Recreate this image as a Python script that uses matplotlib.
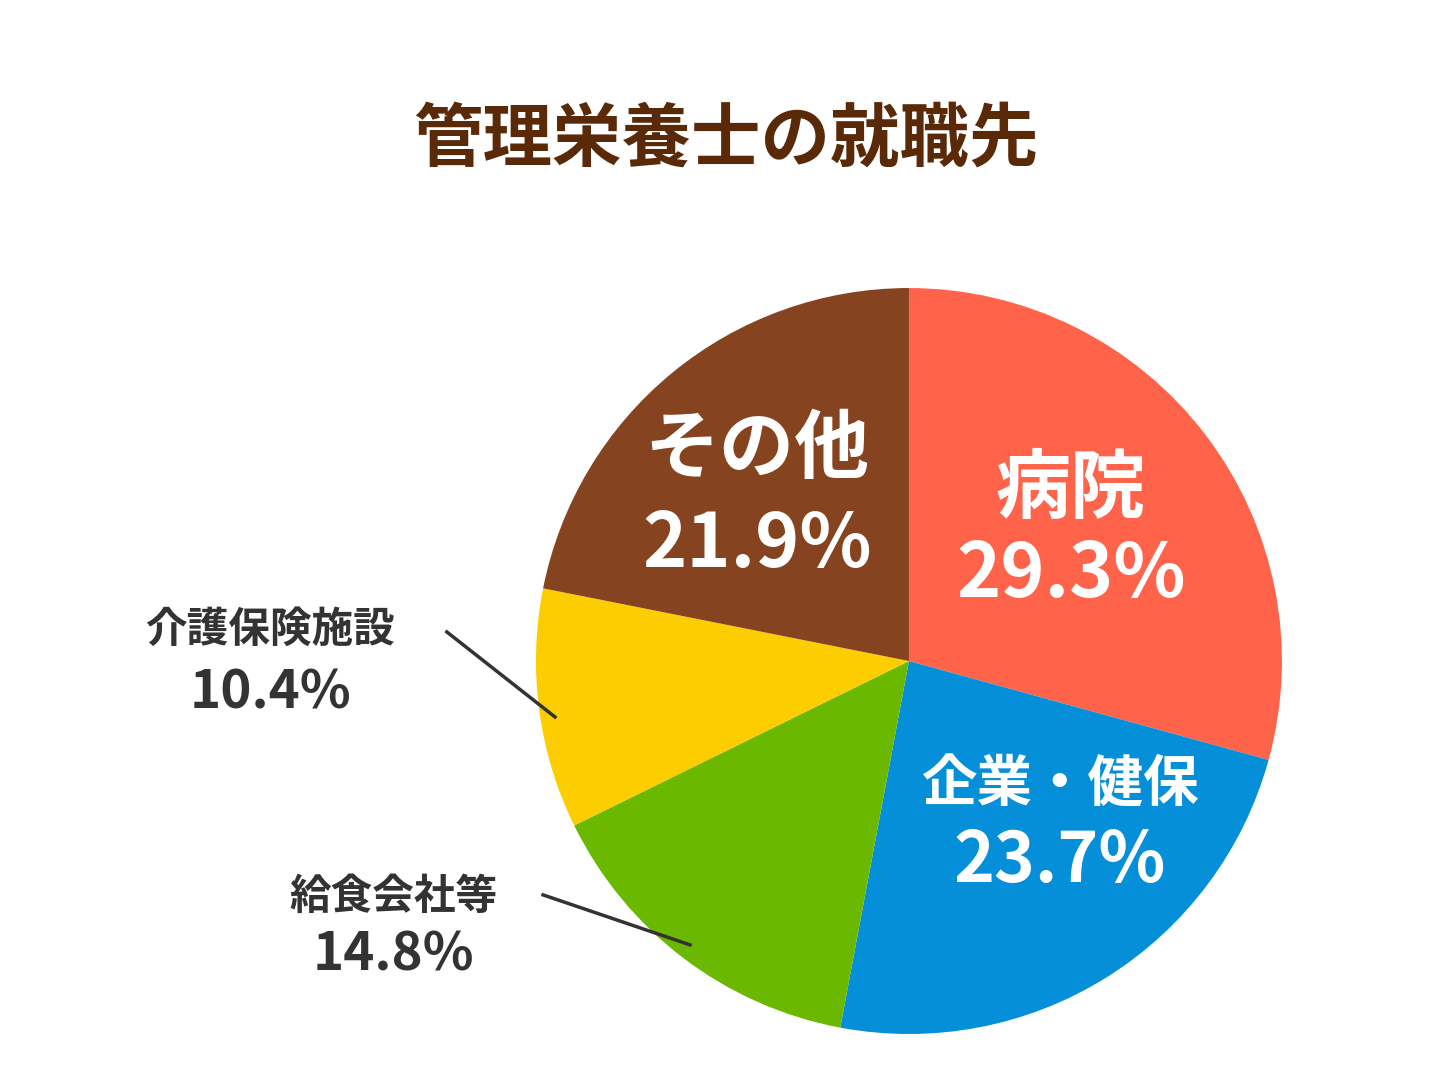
import matplotlib
matplotlib.use("Agg")
import matplotlib.pyplot as plt

plt.rcParams['font.family'] = ['Noto Sans CJK JP', 'DejaVu Sans']

categories = ["病院", "企業・健保", "給食会社等", "介護保険施設", "その他"]
values = [29.3, 23.7, 14.8, 10.4, 21.9]
colors = ["#FF634A", "#058FD8", "#6AB900", "#FCCD00", "#86431F"]
title = "管理栄養士の就職先"

fig = plt.figure(figsize=(14.52, 10.89), dpi=100)
fig.text(0.5, 0.871, title, ha='center', va='center', fontsize=50, fontweight='bold', color='#5A2A08')

ax = fig.add_axes([0.626 - 0.257, 0.393 - 0.3425, 0.514, 0.685])
ax.pie(values, colors=colors, startangle=90, counterclock=False, radius=1,
       wedgeprops=dict(linewidth=0))
ax.set_xlim(-1, 1); ax.set_ylim(-1, 1); ax.set_aspect('equal')
ax.axis('off')

def lab(i, x, y1, y2, color, fs1, fs2):
    ax.text(x, y1, categories[i], ha='center', va='center', fontsize=fs1, fontweight='bold', color=color, clip_on=False)
    ax.text(x, y2, f"{values[i]}%", ha='center', va='center', fontsize=fs2, fontweight='bold', color=color, clip_on=False)

lab(0, 0.434, 0.458, 0.231, 'white', 54, 54)
lab(1, 0.405, -0.332, -0.539, 'white', 40, 50)
lab(4, -0.407, 0.566, 0.311, 'white', 54, 54)
lab(3, -1.713, 0.083, -0.086, '#333333', 30, 38)
lab(2, -1.383, -0.633, -0.788, '#333333', 30, 38)

ax.plot([-1.239, -0.949], [0.078, -0.150], color='#333333', lw=2.5, clip_on=False)
ax.plot([-0.981, -0.587], [-0.627, -0.761], color='#333333', lw=2.5, clip_on=False)

fig.savefig("out.png", dpi=100)
